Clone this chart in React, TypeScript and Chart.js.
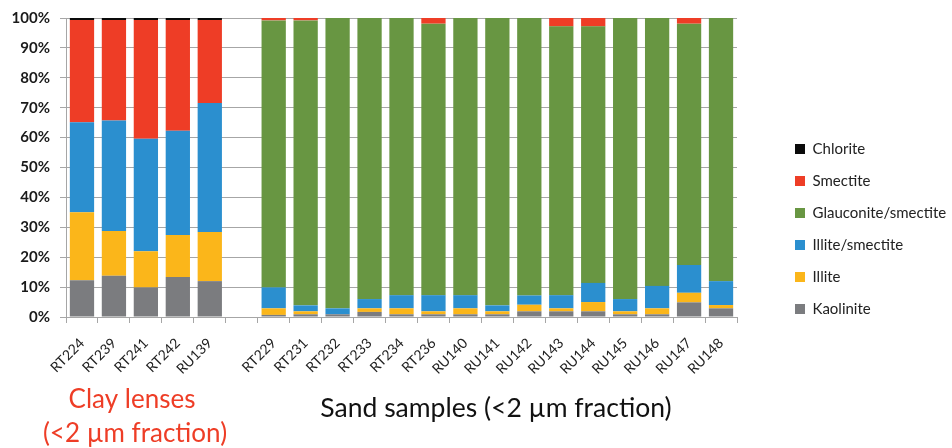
import React, { useEffect, useRef } from "react";
import { Chart, registerables } from "chart.js";

Chart.register(...registerables);

const categories = [
  "RT224", "RT239", "RT241", "RT242", "RU139", "",
  "RT229", "RT231", "RT232", "RT233", "RT234", "RT236", "RU140", "RU141",
  "RU142", "RU143", "RU144", "RU145", "RU146", "RU147", "RU148",
];

const kaolinite = [12.3, 13.8, 9.9, 13.4, 12.0, null, 0.7, 0.9, 0.9, 1.7, 0.9, 0.9, 0.9, 0.9, 1.9, 1.9, 1.9, 0.9, 0.9, 4.9, 2.9];
const illite = [22.7, 15.0, 12.1, 14.0, 16.4, null, 2.2, 1.0, 0, 1.2, 2.0, 1.0, 2.0, 1.0, 2.2, 1.0, 3.1, 1.0, 2.0, 3.2, 1.1];
const illiteSmectite = [30.1, 36.9, 37.6, 34.9, 43.2, null, 7.0, 2.0, 2.0, 3.1, 4.4, 5.4, 4.4, 2.0, 3.1, 4.4, 6.4, 4.1, 7.5, 9.3, 8.0];
const glauconiteSmectite = [0, 0, 0, 0, 0, null, 89.3, 95.3, 97.1, 94.0, 92.7, 90.8, 92.7, 96.1, 92.8, 89.9, 85.8, 94.0, 89.6, 80.7, 88.0];
const smectite = [34.2, 33.6, 39.7, 37.0, 27.7, null, 0.8, 0.8, 0, 0, 0, 1.9, 0, 0, 0, 2.8, 2.8, 0, 0, 1.9, 0];
const chlorite = [0.7, 0.7, 0.7, 0.7, 0.7, null, 0, 0, 0, 0, 0, 0, 0, 0, 0, 0, 0, 0, 0, 0, 0];

const yTicks = [0, 10, 20, 30, 40, 50, 60, 70, 80, 90, 100];

const seriesNames = ["Kaolinite", "Illite", "Illite/smectite", "Glauconite/smectite", "Smectite", "Chlorite"];
const seriesColors = ["#7B7C7F", "#FBB61A", "#2B8FCF", "#689642", "#EE3D26", "#0A0A0A"];
const seriesData = [kaolinite, illite, illiteSmectite, glauconiteSmectite, smectite, chlorite];

const captionClay1 = "Clay lenses";
const captionClay2 = "(<2 µm fraction)";
const captionSand = "Sand samples (<2 µm fraction)";

const FONT = "Lato, 'Open Sans', sans-serif";
const LEGEND_WIDTH = 177;

const captionPlugin = {
  id: "captions",
  afterDraw(chart: any) {
    const ctx = chart.ctx;
    ctx.save();
    ctx.textAlign = "center";
    ctx.textBaseline = "middle";
    ctx.font = `26px ${FONT}`;
    ctx.fillStyle = "#EE3D26";
    ctx.fillText(captionClay1, 124, 392);
    ctx.fillText(captionClay2, 127, 426);
    ctx.fillStyle = "#111111";
    ctx.font = `26.5px ${FONT}`;
    ctx.fillText(captionSand, 488, 400);
    ctx.restore();
  },
};

const legendWidthPlugin = {
  id: "legendWidth",
  beforeLayout(chart: any) {
    const lg = chart.legend;
    if (lg && !lg.__patched) {
      const orig = lg.fit.bind(lg);
      lg.fit = function () {
        orig();
        this.width = LEGEND_WIDTH;
      };
      lg.__patched = true;
    }
  },
};

export default function App() {
  const ref = useRef<HTMLCanvasElement | null>(null);

  useEffect(() => {
    if (!ref.current) return;
    Chart.defaults.font.family = FONT;
    const chart = new Chart(ref.current, {
      type: "bar",
      data: {
        labels: categories,
        datasets: seriesNames.map((name, i) => ({
          label: name,
          data: seriesData[i] as any,
          backgroundColor: seriesColors[i],
          borderColor: seriesColors[i],
          borderWidth: 0,
          barPercentage: 0.76,
          categoryPercentage: 1,
        })),
      },
      options: {
        responsive: false,
        animation: false,
        devicePixelRatio: 1,
        layout: { autoPadding: false, padding: { top: 10, bottom: 8, left: 0, right: 13 } },
        plugins: {
          tooltip: { enabled: false },
          legend: {
            position: "right",
            reverse: true,
            labels: {
              boxWidth: 10,
              boxHeight: 10,
              padding: 17,
              color: "#222222",
              font: { size: 15, family: FONT },
            },
          },
        },
        scales: {
          x: {
            stacked: true,
            grid: {
              drawOnChartArea: false,
              drawTicks: true,
              tickLength: 6,
              color: "#A6A6A6",
              offset: true,
            },
            border: { color: "#A6A6A6" },
            ticks: {
              autoSkip: false,
              minRotation: 45,
              maxRotation: 45,
              padding: 12,
              color: "#222222",
              font: { size: 14, family: FONT },
            },
            afterFit: (s: any) => {
              s.height = 123;
              s.paddingLeft = 0;
              s.paddingRight = 0;
            },
          },
          y: {
            stacked: true,
            min: 0,
            max: 100,
            afterBuildTicks: (s: any) => { s.ticks = yTicks.map((v) => ({ value: v })); },
            grid: { color: "#A6A6A6", tickLength: 6 },
            border: { color: "#A6A6A6" },
            ticks: {
              padding: 10,
              color: "#1A1A1A",
              font: { size: 15, weight: "bold", family: FONT },
              callback: (v: any) => `${v}%`,
            },
            afterFit: (s: any) => {
              s.width = 58;
              s.paddingTop = 0;
              s.paddingBottom = 0;
            },
          },
          yRight: {
            type: "linear",
            axis: "y",
            position: "right",
            display: true,
            grid: { display: false, drawTicks: false },
            border: { display: false },
            ticks: { display: false },
            afterFit: (s: any) => {
              s.width = 41;
              s.paddingTop = 0;
              s.paddingBottom = 0;
            },
          },
        },
      } as any,
      plugins: [legendWidthPlugin, captionPlugin],
    });
    return () => chart.destroy();
  }, []);

  return (
    <div style={{ position: "fixed", left: 8, top: 8, width: 944, height: 440, overflow: "hidden" }}>
      <canvas ref={ref} width={960} height={440} style={{ width: 960, height: 440, display: "block" }} />
    </div>
  );
}
